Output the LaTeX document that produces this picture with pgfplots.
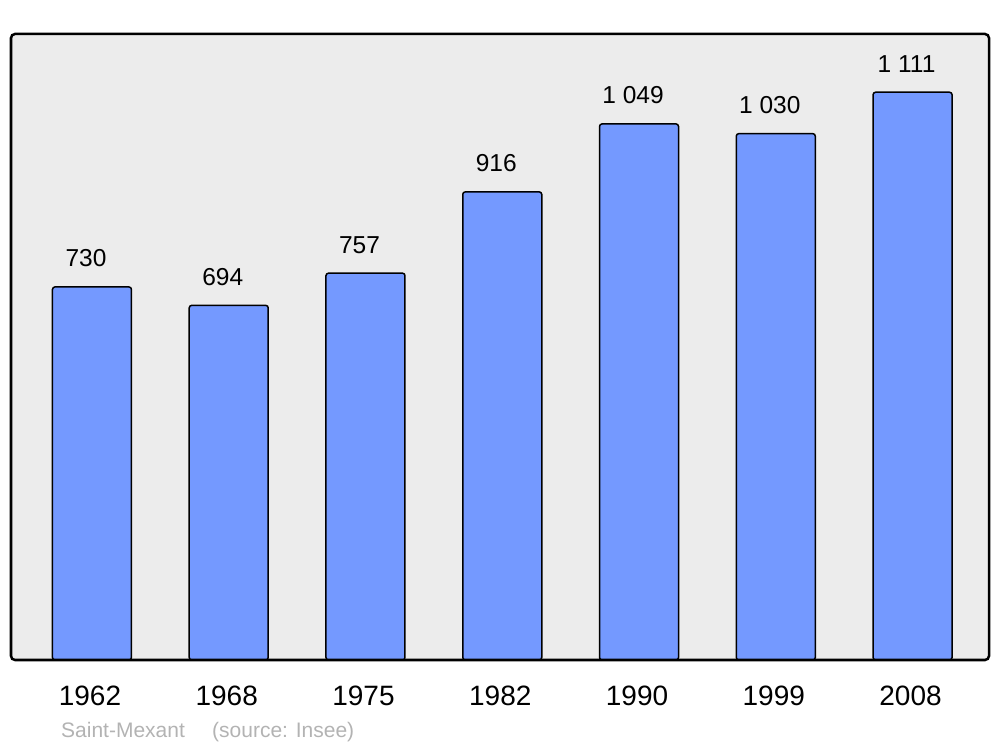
\documentclass[border=0pt]{standalone}
\usepackage{pgfplots}
\pgfplotsset{compat=1.18}
\usepackage{fontspec}
\setmainfont{Liberation Sans}
\definecolor{barblue}{HTML}{7499FF}
\definecolor{bggray}{HTML}{ECECEC}
\definecolor{footgray}{HTML}{B3B3B3}
\begin{document}
\begin{tikzpicture}
\useasboundingbox (0,0) rectangle (1000bp,747bp);
\begin{axis}[
  at={(11bp,87bp)}, anchor=south west,
  scale only axis, width=978bp, height=626bp,
  xmin=-0.592, xmax=6.559, ymin=0, ymax=1225,
  axis line style={draw=none},
  axis background/.style={fill=bggray},
  xtick=data,
  xticklabels={1962,1968,1975,1982,1990,1999,2008},
  ytick=\empty,
  major tick length=0pt,
  xticklabel style={font=\fontsize{28bp}{32bp}\selectfont, anchor=base, inner sep=0pt, yshift=-45bp, xshift=-2bp},
  ybar, bar width=79bp, bar shift=0pt,
  nodes near coords,
  every node near coord/.append style={font=\fontsize{24.5bp}{28bp}\selectfont, anchor=base, inner sep=0pt, yshift=20bp, xshift=-6bp},
  /pgf/number format/assume math mode=true,
  /pgf/number format/1000 sep={\ },
  clip=false,
]
\addplot[fill=barblue, draw=black, line width=1.5bp, rounded corners=2.5bp]
  coordinates {(0,730) (1,694) (2,757) (3,916) (4,1049) (5,1030) (6,1111)};
\draw[line width=2.5bp, rounded corners=4bp] (rel axis cs:0,0) rectangle (rel axis cs:1,1);
\end{axis}
\node[anchor=base west, inner sep=0pt, text=footgray, font=\fontsize{21bp}{24bp}\selectfont] at (61bp,10bp) {Saint-Mexant};
\node[anchor=base west, inner sep=0pt, text=footgray, font=\fontsize{21bp}{24bp}\selectfont] at (212bp,10bp) {(source: Insee)};
\end{tikzpicture}
\end{document}
